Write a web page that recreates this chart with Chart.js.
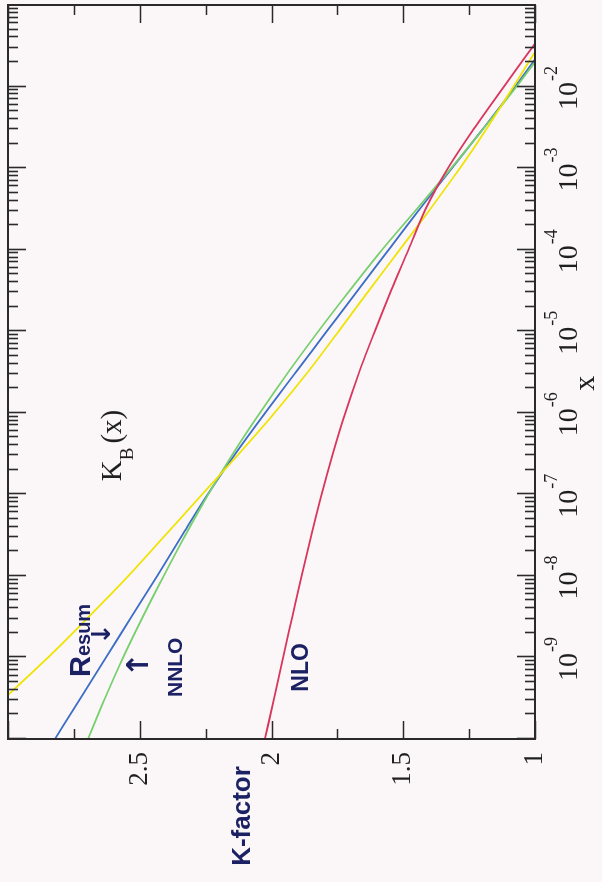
<!DOCTYPE html>
<html>
<head>
<meta charset="utf-8">
<script src="https://cdn.jsdelivr.net/npm/chart.js@4.4.1/dist/chart.umd.min.js"></script>
<style>
html,body{margin:0;padding:0;background:#fbf7f9;overflow:hidden;width:602px;height:882px;}
#wrap{position:absolute;left:0;top:0;width:882px;height:602px;transform-origin:0 0;transform:translate(0px,882px) rotate(-90deg);}
canvas{display:block;}
</style>
</head>
<body>
<div id="wrap"><canvas id="c" width="882" height="602"></canvas></div>
<script>
// x values (half-decade steps from 1e-10 to 1e-1)
const xValues = [1e-10, 3.162e-10, 1e-9, 3.162e-9, 1e-8, 3.162e-8, 1e-7, 3.162e-7, 1e-6, 3.162e-6,
                 1e-5, 3.162e-5, 1e-4, 3.162e-4, 1e-3, 3.162e-3, 1e-2, 3.162e-2, 1e-1];
// K-factor curves
const nloK   = [2.025, 1.990, 1.956, 1.921, 1.886, 1.849, 1.810, 1.767, 1.720, 1.667,
                1.608, 1.546, 1.480, 1.415, 1.330, 1.228, 1.118, 1.006, 0.888];
const nnloK  = [2.696, 2.632, 2.563, 2.488, 2.409, 2.327, 2.240, 2.146, 2.044, 1.936,
                1.822, 1.703, 1.580, 1.448, 1.318, 1.192, 1.070, 0.955, 0.845];
const resumK = [2.822, 2.725, 2.628, 2.531, 2.434, 2.339, 2.242, 2.137, 2.024, 1.907,
                1.790, 1.673, 1.555, 1.437, 1.315, 1.193, 1.075, 0.963, 0.851];
const yellowK = [3.180, 3.013, 2.848, 2.693, 2.543, 2.403, 2.263, 2.123, 1.988, 1.862,
                 1.745, 1.630, 1.513, 1.397, 1.285, 1.180, 1.082, 0.985, 0.888];
// tick labels
const xMajorTicks = [1e-9, 1e-8, 1e-7, 1e-6, 1e-5, 1e-4, 1e-3, 1e-2];
const xTickExponents = ['-9', '-8', '-7', '-6', '-5', '-4', '-3', '-2'];
const kMajorTicks = [1, 1.5, 2, 2.5, 3];
const kMinorTicks = [1.25, 1.75, 2.25, 2.75];

const INK = '#1f1f1f';
const PEN = '#1c2163';

function pts(arr){ return xValues.map((x,i)=>({x:x, y:arr[i]})); }

const decor = {
  id: 'decor',
  afterDatasetsDraw(chart){
    const {ctx, chartArea:a, scales:{x, y}} = chart;
    ctx.save();
    ctx.strokeStyle = '#2a2a2a';
    ctx.lineWidth = 1.6;
    ctx.beginPath();
    // log-axis ticks (bottom and top edges)
    for (let d = -10; d <= -2; d++) {
      for (let k = 1; k <= 9; k++) {
        const v = k * Math.pow(10, d);
        const px = Math.round(x.getPixelForValue(v)) + 0.5;
        const len = (k === 1) ? 18 : 10;
        ctx.moveTo(px, a.bottom); ctx.lineTo(px, a.bottom - len);
        ctx.moveTo(px, a.top); ctx.lineTo(px, a.top + len);
      }
    }
    // K-axis ticks (left and right edges)
    kMajorTicks.concat(kMinorTicks).forEach(v => {
      const py = Math.round(y.getPixelForValue(v)) + 0.5;
      const len = kMajorTicks.includes(v) ? 18 : 10;
      ctx.moveTo(a.left, py); ctx.lineTo(a.left + len, py);
      ctx.moveTo(a.right, py); ctx.lineTo(a.right - len, py);
    });
    ctx.stroke();
    // frame
    ctx.lineWidth = 2;
    ctx.strokeRect(a.left, a.top, a.right - a.left, a.bottom - a.top);

    // x tick labels 10^n
    ctx.fillStyle = INK;
    ctx.textAlign = 'left';
    ctx.textBaseline = 'alphabetic';
    xMajorTicks.forEach((v, i) => {
      const px = x.getPixelForValue(v);
      ctx.font = '28px "Liberation Serif"';
      const w1 = ctx.measureText('10').width;
      ctx.font = '18px "Liberation Serif"';
      const w2 = ctx.measureText(xTickExponents[i]).width;
      const start = px - (w1 + w2) / 2 - 2;
      ctx.font = '28px "Liberation Serif"';
      ctx.fillText('10', start, a.bottom + 42);
      ctx.font = '18px "Liberation Serif"';
      ctx.fillText(xTickExponents[i], start + w1 + 1, a.bottom + 22);
    });
    // x axis title
    ctx.font = '30px "Liberation Serif"';
    ctx.textAlign = 'center';
    ctx.fillText('x', x.getPixelForValue(2.3e-6), a.bottom + 59);

    // K_B(x) label
    ctx.textAlign = 'left';
    let ux = x.getPixelForValue(1.45e-7);
    const vb = y.getPixelForValue(2.57);
    ctx.font = '29px "Liberation Serif"';
    ctx.fillText('K', ux, vb);
    ux += ctx.measureText('K').width;
    ctx.font = '19px "Liberation Serif"';
    ctx.fillText('B', ux, vb + 12);
    ux += ctx.measureText('B').width + 4;
    ctx.font = '29px "Liberation Serif"';
    ctx.fillText('(x)', ux, vb);

    // handwritten annotations
    ctx.fillStyle = PEN;
    ctx.textAlign = 'left';
    let rx = x.getPixelForValue(5.75e-10);
    const rb = y.getPixelForValue(2.689);
    ctx.font = 'bold 29px "Liberation Sans"';
    ctx.fillText('R', rx, rb);
    rx += ctx.measureText('R').width;
    ctx.font = 'bold 20px "Liberation Sans"';
    ctx.fillText('esum', rx, rb);

    ctx.textAlign = 'center';
    ctx.textBaseline = 'middle';
    ctx.font = 'bold 26px "DejaVu Sans"';
    ctx.fillText('\u2193', x.getPixelForValue(1.95e-9), y.getPixelForValue(2.64));
    ctx.font = 'bold 30px "DejaVu Sans"';
    ctx.fillText('\u2191', x.getPixelForValue(8.1e-10), y.getPixelForValue(2.50));

    ctx.textAlign = 'left';
    ctx.textBaseline = 'alphabetic';
    ctx.font = 'bold 21px "Liberation Sans"';
    ctx.fillText('NNLO', x.getPixelForValue(3.27e-10), y.getPixelForValue(2.34));
    ctx.font = 'bold 23px "Liberation Sans"';
    ctx.fillText('NLO', x.getPixelForValue(3.8e-10), y.getPixelForValue(1.861));

    ctx.textAlign = 'center';
    ctx.font = 'bold 26px "Liberation Sans"';
    ctx.fillText('K-factor', a.left - 77, y.getPixelForValue(2.08));
    ctx.restore();
  }
};

const common = {showLine: true, pointRadius: 0, borderWidth: 1.8, fill: false, cubicInterpolationMode: 'monotone'};

new Chart(document.getElementById('c'), {
  type: 'scatter',
  data: {
    datasets: [
      Object.assign({label: 'NLO', data: pts(nloK), borderColor: '#d8365c'}, common),
      Object.assign({label: 'K_B(x) yellow', data: pts(yellowK), borderColor: '#f0e300'}, common),
      Object.assign({label: 'NNLO', data: pts(nnloK), borderColor: '#78cf6e'}, common),
      Object.assign({label: 'Resum', data: pts(resumK), borderColor: '#3b6cc6'}, common)
    ]
  },
  options: {
    responsive: false,
    animation: false,
    devicePixelRatio: 1,
    layout: {padding: {top: 8, right: 5, bottom: 67, left: 0}},
    plugins: {legend: {display: false}, tooltip: {enabled: false}},
    scales: {
      x: {type: 'logarithmic', min: 1e-10, max: 1e-1, display: false},
      y: {
        type: 'linear', min: 1, max: 3, position: 'left',
        grid: {display: false, drawTicks: false},
        border: {display: false},
        ticks: {
          stepSize: 0.5, padding: 13, color: INK,
          font: {family: '"Liberation Serif"', size: 27},
          callback: v => (v === 3 ? '' : String(v))
        },
        afterFit: s => { s.width = 143; s.paddingTop = 0; s.paddingBottom = 0; }
      }
    }
  },
  plugins: [decor]
});
</script>
</body>
</html>
